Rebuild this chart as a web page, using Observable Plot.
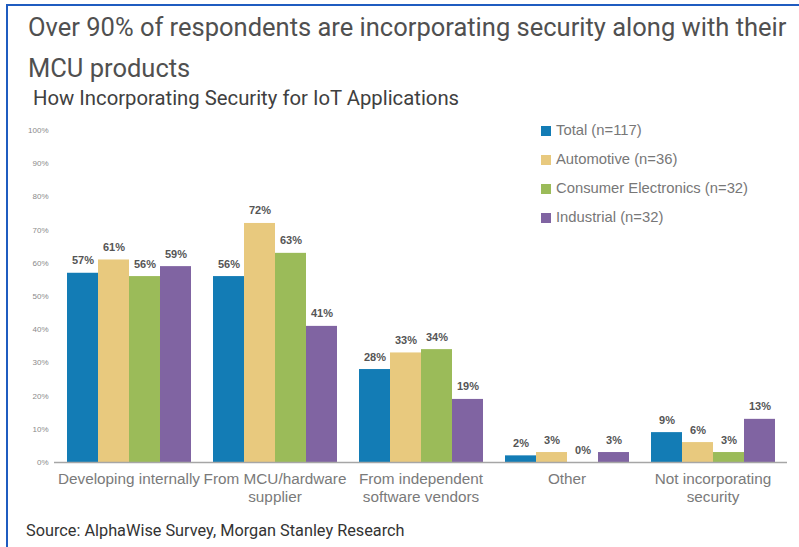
<!DOCTYPE html>
<html>
<head>
<meta charset="utf-8">
<script src="https://cdn.jsdelivr.net/npm/d3@7"></script>
<script src="https://cdn.jsdelivr.net/npm/@observablehq/plot@0.6"></script>
<style>
  html, body { margin: 0; padding: 0; background: #fff; }
  #wrap { position: relative; width: 799px; height: 547px; overflow: hidden; background: #fff; font-family: Roboto, "Liberation Sans", sans-serif; }
  #bt { position: absolute; left: 6px; top: 4px; width: 793px; height: 2px; background: #1f5cc0; }
  #bl { position: absolute; left: 6px; top: 4px; width: 2px; height: 543px; background: #1f5cc0; }
  #title { position: absolute; left: 28px; top: 7px; font-size: 25.5px; line-height: 41px; color: #505050; white-space: nowrap; }
  #subtitle { position: absolute; left: 33px; top: 86px; font-size: 20.3px; line-height: 24px; color: #404040; white-space: nowrap; }
  #source { position: absolute; left: 26px; top: 521px; font-size: 16.3px; line-height: 20px; color: #333; white-space: nowrap; }
  #chart { position: absolute; left: 0; top: 115px; }
  #legend { position: absolute; left: 541px; top: 120px; font-family: "Liberation Sans", Arial, sans-serif; font-size: 14.8px; color: #777; }
  .li { height: 29px; line-height: 20px; white-space: nowrap; }
  .sw { display: inline-block; width: 10px; height: 10px; margin-right: 5px; vertical-align: -1px; }
</style>
</head>
<body>
<div id="wrap">
  <div id="bt"></div>
  <div id="bl"></div>
  <div id="title">Over 90% of respondents are incorporating security along with their<br>MCU products</div>
  <div id="subtitle">How Incorporating Security for IoT Applications</div>
  <div id="chart"></div>
  <div id="legend"></div>
  <div id="source">Source: AlphaWise Survey, Morgan Stanley Research</div>
</div>
<script>
const categories = ["Developing internally", "From MCU/hardware supplier", "From independent software vendors", "Other", "Not incorporating security"];
const categoryLabels = ["Developing internally", "From MCU/hardware\nsupplier", "From independent\nsoftware vendors", "Other", "Not incorporating\nsecurity"];
const series = ["Total (n=117)", "Automotive (n=36)", "Consumer Electronics (n=32)", "Industrial (n=32)"];
const colors = ["#137cb5", "#e8c97e", "#9bbb59", "#8064a2"];
const totalValues = [57, 56, 28, 2, 9];
const automotiveValues = [61, 72, 33, 3, 6];
const consumerValues = [56, 63, 34, 0, 3];
const industrialValues = [59, 41, 19, 3, 13];
const yTicks = [0, 10, 20, 30, 40, 50, 60, 70, 80, 90, 100];

const seriesValues = [totalValues, automotiveValues, consumerValues, industrialValues];
const data = [];
categories.forEach((c, i) => {
  series.forEach((s, j) => data.push({category: c, series: s, value: seriesValues[j][i]}));
});
const labelOf = new Map(categories.map((c, i) => [c, categoryLabels[i]]));

const W = 799, H = 392, ML = 55, MR = 12, MT = 15, MB = 45;
const chart = Plot.plot({
  width: W, height: H,
  marginLeft: ML, marginRight: MR, marginTop: MT, marginBottom: MB,
  style: {fontFamily: "'Liberation Sans', Arial, sans-serif", background: "transparent"},
  fx: {domain: categories, paddingInner: 0.13, paddingOuter: 0.07, label: null},
  x: {domain: series, padding: 0, axis: null},
  y: {domain: [0, 100], axis: null},
  color: {domain: series, range: colors},
  marks: [
    Plot.axisY({ticks: yTicks, tickFormat: d => d + "%", tickSize: 0, tickPadding: 17, fontSize: 8, color: "#8a8a8a", label: null}),
    Plot.axisFx({anchor: "bottom", tickSize: 0, tickPadding: 9, fontSize: 15.3, color: "#7a7a7a", label: null, lineHeight: 1.18, tickFormat: d => labelOf.get(d)}),
    Plot.barY(data, {fx: "category", x: "series", y: "value", fill: "series"}),
    Plot.text(data, {fx: "category", x: "series", y: "value", text: d => d.value + "%", lineAnchor: "bottom", dy: -9, fontSize: 11, fontWeight: "bold", fill: "#555"})
  ]
});
document.getElementById("chart").appendChild(chart);

// continuous baseline across all groups, positioned with the plot's y scale
const yScale = chart.scale("y");
d3.select(chart).append("line")
  .attr("x1", ML - 1).attr("x2", W - MR)
  .attr("y1", yScale.apply(0) + 0.5).attr("y2", yScale.apply(0) + 0.5)
  .attr("stroke", "#a6a6a6").attr("stroke-width", 1.5);

const legend = d3.select("#legend");
series.forEach((s, i) => {
  const row = legend.append("div").attr("class", "li");
  row.append("span").attr("class", "sw").style("background", colors[i]);
  row.append("span").text(s);
});
</script>
</body>
</html>
